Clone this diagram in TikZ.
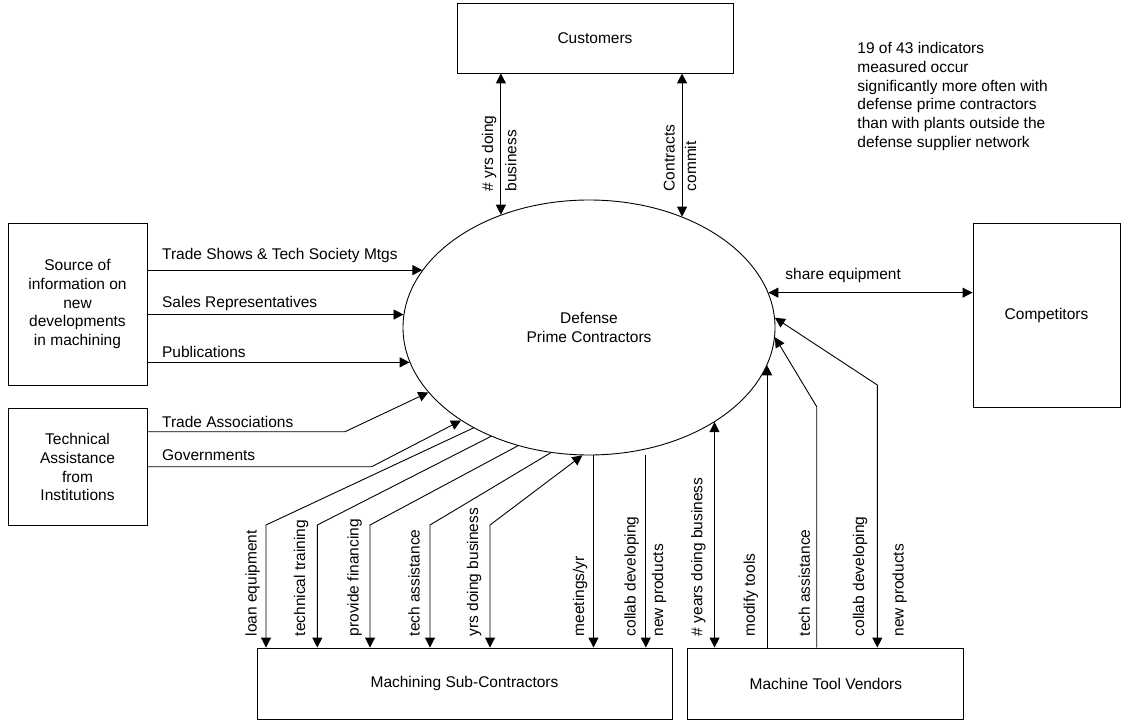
\documentclass[tikz,border=0pt]{standalone}
\usepackage{fontspec}
\setmainfont{Liberation Sans}
\usetikzlibrary{arrows.meta, shapes.geometric, positioning}

\begin{document}
\begin{tikzpicture}[x=1pt, y=-1pt, line width=0.9pt,
    >={Triangle[length=10pt, width=10pt]},
    font=\fontsize{15.5}{18.7}\selectfont,
    box/.style={draw, align=center, inner sep=0pt},
    vlabel/.style={rotate=90, anchor=west, inner sep=0pt},
    hlabel/.style={anchor=base west, inner sep=0pt}]
  \useasboundingbox (0,0) rectangle (1121,722);
  % nodes
  \node[draw, ellipse, minimum width=372pt, minimum height=255pt, inner sep=0pt, align=center] (primes) at (589,327.5) {Defense\\Prime Contractors};
  \node[box, minimum width=276pt, minimum height=70pt] (customers) at (595,38) {Customers};
  \node[box, minimum width=139pt, minimum height=162pt] (infoSource) at (77.5,304) {Source of\\information on\\new\\developments\\in machining};
  \node[box, minimum width=139pt, minimum height=117pt, below=23pt of infoSource] (techAssist) {Technical\\Assistance\\from\\Institutions};
  \node[box, minimum width=147pt, minimum height=184pt] (competitors) at (1046.5,315) {Competitors};
  \node[box, minimum width=415pt, minimum height=71pt] (machSub) at (464.5,683.5) {Machining Sub-Contractors};
  \node[box, minimum width=276pt, minimum height=71pt, right=15pt of machSub] (toolVendors) {Machine Tool Vendors};
  \node[anchor=north west, align=left, inner sep=0pt] (note) at (857,42) {19 of 43 indicators\\measured occur\\significantly more often with\\defense prime contractors\\than with plants outside the\\defense supplier network};

  % customers
  \draw[<->] (primes.128.5) -- (primes.128.5 |- customers.south);
  \draw[<->] (primes.50.7) -- (primes.50.7 |- customers.south);
  \node[vlabel] (yrsLbl) at (489.2,191.7) {\# yrs doing};
  \node[vlabel] (businessLbl) at (510.8,191.7) {business};
  \node[vlabel] (contractsLbl) at (669.2,191.7) {Contracts};
  \node[vlabel] (commitLbl) at (690.5,191.7) {commit};

  % information sources
  \draw[->] (primes.161.2 -| infoSource.east) -- (primes.161.2);
  \draw[->] (primes.176.7 -| infoSource.east) -- (primes.176.7);
  \draw[->] (primes.191.1 -| infoSource.east) -- (primes.191.1);
  \node[hlabel] (tradeShowsLbl) at (161.7,259.3) {Trade Shows \& Tech Society Mtgs};
  \node[hlabel] (salesLbl) at (161.7,307) {Sales Representatives};
  \node[hlabel] (publicationsLbl) at (161.7,357.7) {Publications};

  % technical assistance
  \coordinate (tradeBend) at (345,431.7);
  \coordinate (govBend) at (371.7,466.7);
  \draw[->] (techAssist.east |- tradeBend) -- (tradeBend) -- (primes.202.6);
  \draw[->] (techAssist.east |- govBend) -- (govBend) -- (primes.216.7);
  \node[hlabel] (tradeAssocLbl) at (161.7,427.7) {Trade Associations};
  \node[hlabel] (govLbl) at (161.7,460.3) {Governments};

  % sub-contractors
  \coordinate (loanBend) at (266,525);
  \coordinate (trainBend) at (317.3,525);
  \coordinate (financeBend) at (370,525);
  \coordinate (assistBend) at (430,525);
  \coordinate (subYrsBend) at (490,525);
  \draw[->] (primes.221.5) -- (loanBend) -- (loanBend |- machSub.north);
  \draw[->] (primes.228.2) -- (trainBend) -- (trainBend |- machSub.north);
  \draw[->] (primes.239.05) -- (financeBend) -- (financeBend |- machSub.north);
  \draw[->] (primes.253.4) -- (assistBend) -- (assistBend |- machSub.north);
  \draw[<->] (primes.267.3) -- (subYrsBend) -- (subYrsBend |- machSub.north);
  \draw[->] (primes.272.25) -- (primes.272.25 |- machSub.north);
  \draw[->, shorten <=6pt] (primes.-65.3) -- (primes.-65.3 |- machSub.north);
  \node[vlabel] (loanLbl) at (252.5,636.7) {loan equipment};
  \node[vlabel] (trainLbl) at (301.2,636.7) {technical training};
  \node[vlabel] (financeLbl) at (354.5,636.7) {provide financing};
  \node[vlabel] (subAssistLbl) at (414.2,636.7) {tech assistance};
  \node[vlabel] (subYrsLbl) at (474.2,636.7) {yrs doing business};
  \node[vlabel] (meetingsLbl) at (580,636.7) {meetings/yr};
  \node[vlabel] (subCollabLbl) at (631.7,636.7) {collab developing};
  \node[vlabel] (subProductsLbl) at (659,636.7) {new products};

  % tool vendors
  \coordinate (vendAssistBend) at (816.7,406.7);
  \coordinate (vendCollabBend) at (877.3,385);
  \draw[<->] (primes.-37.06) -- (primes.-37.06 |- toolVendors.north);
  \draw[->] (primes.-12.49 |- toolVendors.north) -- (primes.-12.49);
  \draw[->] (vendAssistBend |- toolVendors.north) -- (vendAssistBend) -- (primes.-3.86);
  \draw[<->] (primes.3.34) -- (vendCollabBend) -- (vendCollabBend |- toolVendors.north);
  \node[vlabel] (vendYrsLbl) at (698.3,636.7) {\# years doing business};
  \node[vlabel] (modifyLbl) at (750.8,636.7) {modify tools};
  \node[vlabel] (vendAssistLbl) at (804.2,636.7) {tech assistance};
  \node[vlabel] (vendCollabLbl) at (860,636.7) {collab developing};
  \node[vlabel] (vendProductsLbl) at (899.5,636.7) {new products};

  % competitors
  \draw[<->] (primes.11.34) -- (primes.11.34 -| competitors.west);
  \node[hlabel] (shareLbl) at (785,279.6) {share equipment};
\end{tikzpicture}
\end{document}
